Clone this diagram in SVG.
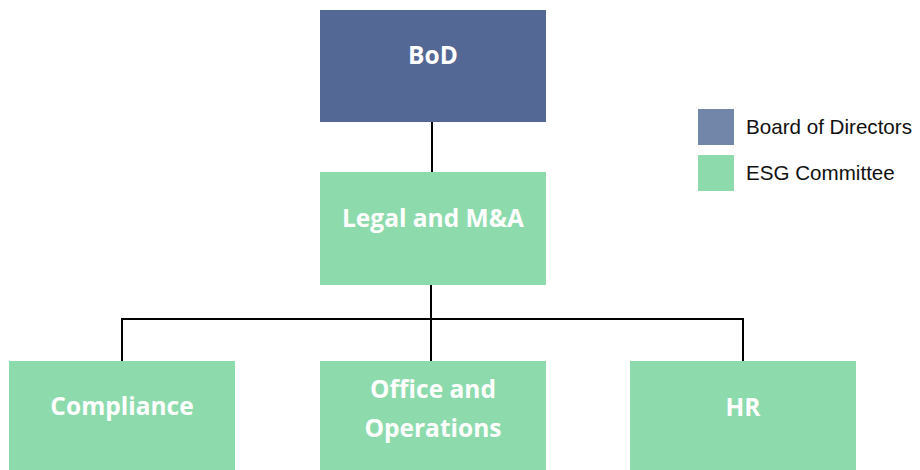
<svg xmlns="http://www.w3.org/2000/svg" width="920" height="470" viewBox="0 0 920 470">
  <style>
    .board { fill: #536895; }
    .esg { fill: #8ddbad; }
    .label { font-family: "Open Sans", Lato, "Liberation Sans", sans-serif; font-weight: bold; font-size: 24.5px; fill: #ffffff; text-anchor: middle; }
    .legend { font-family: "Liberation Sans", Arial, sans-serif; font-size: 20.6px; fill: #111111; }
    .wire { fill: none; stroke: #000000; stroke-width: 2; }
  </style>
  <rect width="920" height="470" fill="#ffffff"/>

  <g id="connectors">
    <line class="wire" x1="432" y1="122" x2="432" y2="172"/>
    <line class="wire" x1="431" y1="285" x2="431" y2="361"/>
    <polyline class="wire" points="122,361 122,319 743,319 743,361"/>
  </g>

  <g id="bod">
    <rect class="board" x="320" y="10" width="226" height="112"/>
    <text class="label" x="433" y="64">BoD</text>
  </g>

  <g id="legal">
    <rect class="esg" x="320" y="172" width="226" height="113"/>
    <text class="label" x="433" y="227">Legal and M&amp;A</text>
  </g>

  <g id="compliance">
    <rect class="esg" x="9" y="361" width="226" height="109"/>
    <text class="label" x="122" y="415">Compliance</text>
  </g>

  <g id="office">
    <rect class="esg" x="320" y="361" width="226" height="109"/>
    <text class="label" x="433" y="398">Office and</text>
    <text class="label" x="433" y="437">Operations</text>
  </g>

  <g id="hr">
    <rect class="esg" x="630" y="361" width="226" height="109"/>
    <text class="label" x="743" y="416">HR</text>
  </g>

  <g id="legend">
    <rect x="698" y="109" width="36" height="36" fill="#7186a8"/>
    <text class="legend" x="746" y="134">Board of Directors</text>
    <rect x="698" y="155" width="36" height="36" fill="#8ddbad"/>
    <text class="legend" x="746" y="180">ESG Committee</text>
  </g>
</svg>
